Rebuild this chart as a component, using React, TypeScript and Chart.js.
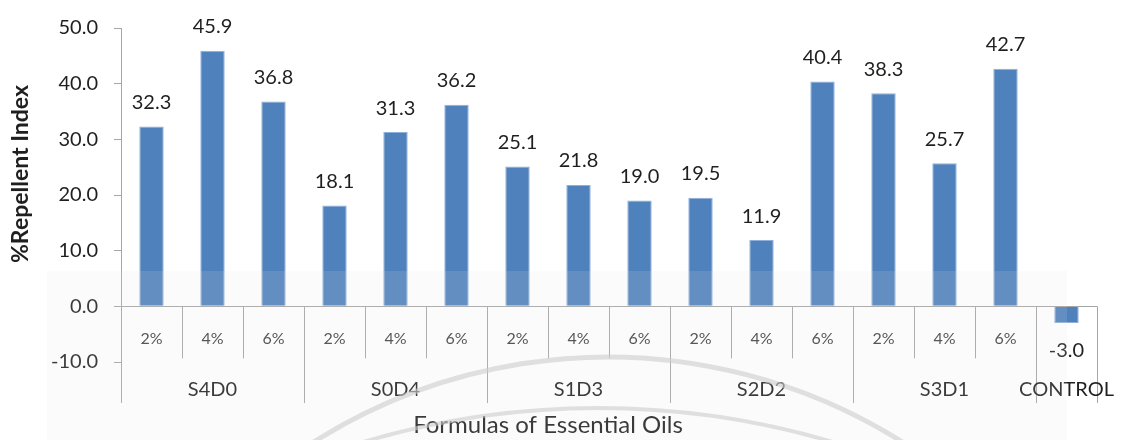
import React, { useEffect, useRef } from "react";
import { Chart, registerables } from "chart.js";

Chart.register(...registerables);

// Concentration levels under each formula
const concentrations = ["2%", "4%", "6%", "2%", "4%", "6%", "2%", "4%", "6%", "2%", "4%", "6%", "2%", "4%", "6%", ""];
// Formula groups and how many concentrations each spans
const formulas = ["S4D0", "S0D4", "S1D3", "S2D2", "S3D1", "CONTROL"];
const formulaSpans = [3, 3, 3, 3, 3, 1];
// Percent repellent index per bar
const repellentIndex = [32.3, 45.9, 36.8, 18.1, 31.3, 36.2, 25.1, 21.8, 19.0, 19.5, 11.9, 40.4, 38.3, 25.7, 42.7, -3.0];
// Y axis range
const yMin = -10;
const yMax = 50;
const yStep = 10;

const FONT = "Lato, 'Open Sans', sans-serif";
const TEXT = "#1f1f1f";
const AXIS = "#a6a6a6";

const decorPlugin = {
  id: "decor",
  afterDatasetsDraw(chart: any) {
    const { ctx, scales } = chart;
    const x = scales.x;
    const y = scales.y;
    const y0 = y.getPixelForValue(0);
    const left = chart.chartArea.left;
    const right = chart.chartArea.right;
    const bottom = chart.chartArea.bottom;
    const axisEnd = bottom + 41;
    ctx.save();

    // value labels
    ctx.fillStyle = TEXT;
    ctx.font = `20px ${FONT}`;
    ctx.textAlign = "center";
    ctx.textBaseline = "middle";
    repellentIndex.forEach((v, i) => {
      const px = x.getPixelForValue(i);
      const py = y.getPixelForValue(v);
      const ly = v >= 0 ? py - 24 : py + 28;
      ctx.fillText(v.toFixed(1), px, ly);
    });

    // category axis along zero
    ctx.strokeStyle = AXIS;
    ctx.lineWidth = 1;
    ctx.beginPath();
    ctx.moveTo(left, Math.round(y0) + 0.5);
    ctx.lineTo(right, Math.round(y0) + 0.5);
    // y axis continues below the plot
    ctx.moveTo(Math.round(left) + 0.5, bottom);
    ctx.lineTo(Math.round(left) + 0.5, axisEnd);
    ctx.stroke();

    const step = x.getPixelForValue(1) - x.getPixelForValue(0);
    // short separators between concentrations, long ones between formulas
    ctx.beginPath();
    let idx = 0;
    formulaSpans.forEach((span) => {
      for (let k = 1; k < span; k++) {
        const sx = Math.round(x.getPixelForValue(idx + k) - step / 2) + 0.5;
        ctx.moveTo(sx, y0);
        ctx.lineTo(sx, y0 + 52);
      }
      idx += span;
      const gx = Math.round(x.getPixelForValue(idx - 1) + step / 2) + 0.5;
      ctx.moveTo(gx, y0);
      ctx.lineTo(gx, axisEnd);
    });
    ctx.stroke();

    // concentration labels
    ctx.fillStyle = "#404040";
    ctx.font = `16px ${FONT}`;
    concentrations.forEach((c, i) => {
      if (c) ctx.fillText(c, x.getPixelForValue(i), y0 + 33);
    });

    // formula labels
    ctx.fillStyle = TEXT;
    ctx.font = `20px ${FONT}`;
    idx = 0;
    formulas.forEach((f, g) => {
      const span = formulaSpans[g];
      const cx = (x.getPixelForValue(idx) + x.getPixelForValue(idx + span - 1)) / 2;
      ctx.fillText(f, cx, y0 + 83);
      idx += span;
    });

    // axis titles
    ctx.font = `24px ${FONT}`;
    ctx.fillText("Formulas of Essential Oils", 548, 425);
    ctx.save();
    ctx.translate(21, 174);
    ctx.rotate(-Math.PI / 2);
    ctx.font = `bold 23px ${FONT}`;
    ctx.fillText("%Repellent Index", 0, 0);
    ctx.restore();

    ctx.restore();
  },
  afterDraw(chart: any) {
    const { ctx } = chart;
    ctx.save();
    // faint watermark band across the lower part
    ctx.fillStyle = "rgba(230,230,230,0.14)";
    ctx.fillRect(47, 271, 1020, chart.height - 271);
    // faint watermark rings
    ctx.strokeStyle = "rgba(205,205,205,0.6)";
    ctx.lineWidth = 5;
    ctx.beginPath();
    ctx.arc(608, 909, 552, Math.PI * 1.2, Math.PI * 1.8);
    ctx.stroke();
    ctx.lineWidth = 4;
    ctx.beginPath();
    ctx.arc(598, 1236, 828, Math.PI * 1.3, Math.PI * 1.7);
    ctx.stroke();
    ctx.restore();
  },
};

export default function App() {
  const ref = useRef<HTMLCanvasElement>(null);
  useEffect(() => {
    if (!ref.current) return;
    const chart = new Chart(ref.current, {
      type: "bar",
      data: {
        labels: concentrations.map((c, i) => `${i}:${c}`),
        datasets: [
          {
            data: repellentIndex,
            backgroundColor: "#4f81bd",
            borderColor: "#8eaedb",
            borderWidth: 1,
            barPercentage: 0.4,
            categoryPercentage: 1,
          },
        ],
      },
      options: {
        responsive: false,
        animation: false,
        layout: { padding: { left: 0, top: 21, right: 26, bottom: 78 } },
        plugins: { legend: { display: false }, tooltip: { enabled: false } },
        scales: {
          x: { display: false },
          y: {
            min: yMin,
            max: yMax,
            afterFit: (s: any) => {
              s.width = 121;
            },
            grid: { drawOnChartArea: false, tickLength: 7, color: AXIS },
            border: { color: AXIS },
            ticks: {
              stepSize: yStep,
              padding: 16,
              color: TEXT,
              font: { family: FONT, size: 20 },
              callback: (v: any) => Number(v).toFixed(1),
            },
          },
        },
      },
      plugins: [decorPlugin],
    });
    return () => chart.destroy();
  }, []);
  return (
    <div style={{ position: "fixed", left: 0, top: 0, width: 1123, height: 440, background: "#fff" }}>
      <canvas ref={ref} width={1123} height={440} />
    </div>
  );
}
